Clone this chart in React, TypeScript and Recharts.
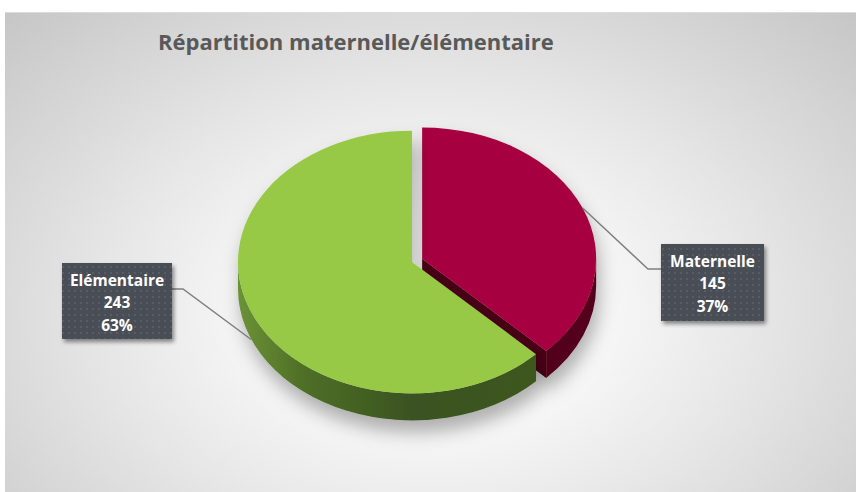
import React from "react";
import { PieChart, Pie, Cell } from "recharts";

// ---- data ----
const categories = ["Maternelle", "Elémentaire"];
const values = [145, 243];
const chartTitle = "Répartition maternelle/élémentaire";

const data = categories.map((name, i) => ({ name, value: values[i] }));

// ---- styling / layout constants ----
const W = 856;
const H = 492;
const TILT = 0.755;
const DEPTH = 27;
const EXPLODE = [11, 0];
const TOP_COLORS = ["#A7063F", "#97C947"];
const WALL_COLORS = ["url(#wallMaroon)", "url(#wallGreen)"];
const CUT_COLORS = ["#4A0016", "#3C561E"];
const FONT = "'Open Sans', 'DejaVu Sans', sans-serif";

const LABEL_BOX = [
  { x: 661, y: 244, w: 103, h: 77, ex: 661, ey: 269, kx: 648 },
  { x: 62, y: 263, w: 110, h: 76, ex: 172, ey: 289, kx: 183 },
];

const rad = (d: number) => (d * Math.PI) / 180;

function idxOf(props: any): number {
  const n = props?.payload?.name ?? props?.name;
  const i = categories.indexOf(n);
  return i >= 0 ? i : props?.index ?? 0;
}

function explodeOffset(i: number, mid: number): [number, number] {
  const e = EXPLODE[i] || 0;
  return [e * Math.cos(rad(mid)), -e * TILT * Math.sin(rad(mid))];
}

function Slice3D(props: any) {
  const { cx, cy, outerRadius, startAngle, endAngle } = props;
  const i = idxOf(props);
  const mid = (startAngle + endAngle) / 2;
  const [ox, oy] = explodeOffset(i, mid);
  const x0 = cx + ox;
  const y0 = cy + oy;
  const rx = outerRadius;
  const ry = outerRadius * TILT;
  const hi = Math.max(startAngle, endAngle);
  const lo = Math.min(startAngle, endAngle);
  const P = (a: number, dz = 0): [number, number] => [
    x0 + rx * Math.cos(rad(a)),
    y0 - ry * Math.sin(rad(a)) + dz,
  ];
  const [sx, sy] = P(hi);
  const [ex, ey] = P(lo);
  const large = hi - lo > 180 ? 1 : 0;
  const top = `M${x0},${y0} L${sx},${sy} A${rx},${ry} 0 ${large} 1 ${ex},${ey} Z`;

  const walls: string[] = [];
  for (let k = -2; k <= 2; k++) {
    const a = Math.max(lo, -180 + 360 * k);
    const b = Math.min(hi, 360 * k);
    if (b - a > 0.01) {
      const [bx, by] = P(b);
      const [ax, ay] = P(a);
      const [ax2, ay2] = P(a, DEPTH);
      const [bx2, by2] = P(b, DEPTH);
      walls.push(
        `M${bx},${by} A${rx},${ry} 0 0 1 ${ax},${ay} L${ax2},${ay2} A${rx},${ry} 0 0 0 ${bx2},${by2} Z`
      );
    }
  }

  const cuts: string[] = [];
  const addCut = (a: number) => {
    const [px, py] = P(a);
    cuts.push(
      `M${x0},${y0} L${px},${py} L${px},${py + DEPTH} L${x0},${y0 + DEPTH} Z`
    );
  };
  if (Math.sin(rad(hi + 90)) < -1e-6) addCut(hi);
  if (Math.sin(rad(lo - 90)) < -1e-6) addCut(lo);

  return (
    <g filter="url(#pieShadow)">
      {cuts.map((d, k) => (
        <path key={"c" + k} d={d} fill={CUT_COLORS[i]} />
      ))}
      {walls.map((d, k) => (
        <path key={"w" + k} d={d} fill={WALL_COLORS[i]} />
      ))}
      <path d={top} fill={props.fill || TOP_COLORS[i]} />
    </g>
  );
}

function SliceLabel(props: any) {
  const { cx, cy, outerRadius, midAngle, value, percent } = props;
  const i = idxOf(props);
  const [ox, oy] = explodeOffset(i, midAngle);
  const rx = outerRadius;
  const ry = outerRadius * TILT;
  const s = Math.sin(rad(midAngle));
  const axp = cx + ox + rx * Math.cos(rad(midAngle));
  const ayp = cy + oy - ry * s + (s < 0 ? DEPTH : 0);
  const b = LABEL_BOX[i];
  const lines = [categories[i], String(value), `${Math.round(percent * 100)}%`];
  const tx = b.x + b.w / 2;
  return (
    <g>
      <polyline
        points={`${b.ex},${b.ey} ${b.kx},${b.ey} ${axp},${ayp}`}
        fill="none"
        stroke="#7F7F7F"
        strokeWidth={1.5}
      />
      <rect
        x={b.x}
        y={b.y}
        width={b.w}
        height={b.h}
        fill="url(#dotPattern)"
        filter="url(#boxShadow)"
      />
      {lines.map((t, k) => (
        <text
          key={k}
          x={tx}
          y={b.y + 23 + 22.3 * k}
          textAnchor="middle"
          fill="#FFFFFF"
          fontFamily={FONT}
          fontWeight={700}
          fontSize={15.5}
        >
          {t}
        </text>
      ))}
    </g>
  );
}

export default function App() {
  return (
    <div style={{ position: "absolute", left: 0, top: 0, width: W, height: H, overflow: "hidden" }}>
      <svg width={0} height={0} style={{ position: "absolute" }}>
        <defs>
          <linearGradient id="wallGreen" gradientUnits="userSpaceOnUse" x1={238} y1={0} x2={586} y2={0}>
            <stop offset="0" stopColor="#6C9236" />
            <stop offset="0.18" stopColor="#4F7027" />
            <stop offset="0.5" stopColor="#3A5320" />
            <stop offset="1" stopColor="#3D581F" />
          </linearGradient>
          <linearGradient id="wallMaroon" gradientUnits="userSpaceOnUse" x1={420} y1={0} x2={600} y2={0}>
            <stop offset="0" stopColor="#4A0017" />
            <stop offset="1" stopColor="#55001C" />
          </linearGradient>
          <pattern id="dotPattern" patternUnits="userSpaceOnUse" width={6} height={6}>
            <rect width={6} height={6} fill="#4A4D54" />
            <circle cx={3} cy={3} r={0.9} fill="#60636A" />
          </pattern>
          <filter id="pieShadow" x="-20%" y="-20%" width="140%" height="150%">
            <feDropShadow dx={3} dy={12} stdDeviation={9} floodColor="#000" floodOpacity={0.3} />
          </filter>
          <filter id="boxShadow" x="-20%" y="-20%" width="150%" height="150%">
            <feDropShadow dx={2} dy={3} stdDeviation={2} floodColor="#000" floodOpacity={0.45} />
          </filter>
        </defs>
      </svg>
      <div
        style={{
          position: "absolute",
          left: 5,
          top: 12,
          width: 851,
          height: 480,
          borderTop: "1px solid #dcdcdc",
          background:
            "radial-gradient(ellipse farthest-corner at 50% 62%, #ffffff 0%, #fbfbfb 22%, #e6e6e6 55%, #c6c6c6 100%)",
        }}
      />
      <div style={{ position: "absolute", left: 0, top: 0 }}>
        <PieChart width={W} height={H} margin={{ top: 0, right: 0, bottom: 0, left: 0 }}>
          <text
            x={158}
            y={50}
            fill="#595959"
            fontFamily={FONT}
            fontWeight={700}
            fontSize={22}
          >
            {chartTitle}
          </text>
          <Pie
            data={data}
            dataKey="value"
            nameKey="name"
            cx={412}
            cy={262}
            outerRadius={174}
            startAngle={90}
            endAngle={-270}
            stroke="none"
            isAnimationActive={false}
            shape={Slice3D as any}
            label={SliceLabel as any}
            labelLine={false}
          >
            {data.map((d, i) => (
              <Cell key={d.name} fill={TOP_COLORS[i]} />
            ))}
          </Pie>
        </PieChart>
      </div>
    </div>
  );
}
